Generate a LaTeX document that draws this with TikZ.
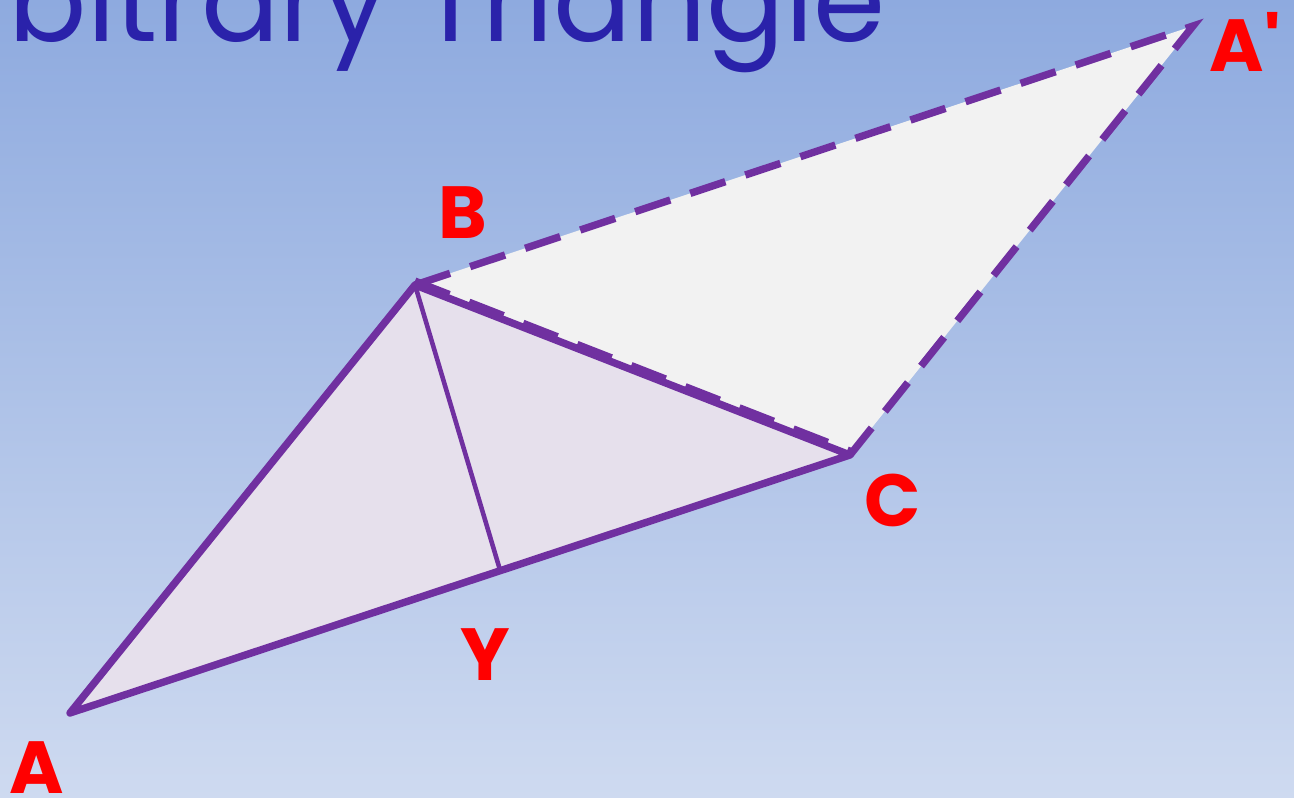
\documentclass[tikz,border=0pt]{standalone}
\usepackage{fontspec}
\setmainfont{Poppins}
\definecolor{bgtop}{RGB}{142,170,223}
\definecolor{bgbot}{RGB}{206,218,240}
\definecolor{edgepurple}{RGB}{112,48,160}
\definecolor{lavfill}{RGB}{230,224,236}
\definecolor{greyfill}{RGB}{242,242,242}
\definecolor{labred}{RGB}{255,0,0}
\definecolor{titleblue}{RGB}{42,34,170}
\tikzset{
  edge/.style={edgepurple, line width=2.1pt, line join=round, line cap=round},
  dashedge/.style={edgepurple, line width=2.1pt, dash pattern=on 10.5pt off 6pt},
  vlabel/.style={text=labred, inner sep=0pt, font=\fontsize{21}{21}\selectfont\bfseries}
}
\begin{document}
\begin{tikzpicture}[x=0.01cm, y=-0.01cm]
		\useasboundingbox (0, 0) rectangle (1294, 798);
		\clip (0, 0) rectangle (1294, 798);
		\shade[top color=bgtop, bottom color=bgbot] (0, 0) rectangle (1294, 798);
		\node[anchor=base west, inner sep=0pt, text=titleblue, font=\fontsize{33}{33}\selectfont] (title) at (8, 42) {bitrary Triangle};
		\coordinate (A) at (70, 713);
		\coordinate (B) at (415, 285);
		\coordinate (C) at (850, 455);
		\coordinate (A') at (1193, 26);
		\coordinate (Y) at (500, 570);
		\fill[greyfill] (B) -- (A') -- (C) -- cycle;
		\fill[lavfill] (A) -- (B) -- (C) -- cycle;
		\draw[edge] (A) -- (B) -- (C) -- cycle;
		\draw[edgepurple, line width=1.3pt] (B) -- (Y);
		\draw[dashedge] (B) -- (A') -- (C);
		\draw[dashedge] ([yshift=1.1pt]B) -- ([yshift=1.1pt]C);
		\node[vlabel] (lA) at (37, 768) {A};
		\node[vlabel] (lB) at (463, 213) {B};
		\node[vlabel] (lC) at (893, 500) {C};
		\node[vlabel] (lY) at (485, 655) {Y};
		\node[vlabel] (lA') at (1245, 42) {A\textquotesingle};
	\end{tikzpicture}
\end{document}
